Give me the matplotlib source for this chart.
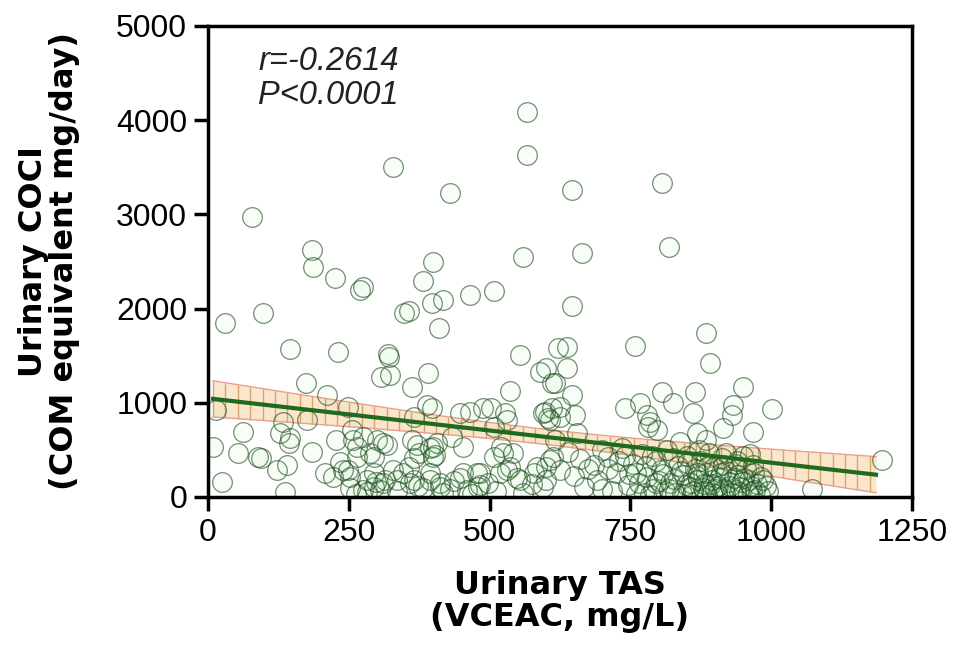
import numpy as np
import matplotlib
matplotlib.use("Agg")
import matplotlib.pyplot as plt

plt.rcParams['font.family'] = ['Liberation Sans', 'DejaVu Sans']

# Urinary TAS (VCEAC, mg/L) and urinary COCI (COM equivalent mg/day) per subject
tas = [
    566, 566, 328, 429, 79, 184, 559, 400, 646, 806, 664, 818,
    187, 226, 270, 275, 381, 397, 417, 348, 356, 411, 465, 508,
    30, 97, 146, 231, 322, 320, 554, 622, 646, 758, 884, 637,
    892, 601, 590, 308, 324, 391, 174, 362, 537, 610, 211, 388,
    397, 249, 488, 503, 465, 448, 595, 610, 15, 134, 175, 607,
    530, 507, 128, 63, 255, 637, 616, 646, 599, 625, 652, 604,
    741, 767, 806, 826, 865, 862, 785, 797, 950, 932, 930, 1001,
    968, 914, 868, 779, 365, 527, 625, 782, 885, 838, 655, 433,
    146, 143, 9, 54, 94, 122, 141, 24, 137, 184, 208, 228,
    276, 264, 288, 234, 249, 300, 317, 294, 314, 329, 294, 282,
    362, 374, 394, 400, 406, 347, 365, 394, 412, 382, 453, 453,
    483, 480, 507, 530, 542, 521, 554, 578, 601, 613, 595, 616,
    258, 311, 294, 264, 371, 400, 403, 365, 356, 524, 536, 518,
    548, 584, 607, 625, 601, 222, 252, 282, 311, 335, 359, 394,
    412, 447, 477, 483, 459, 276, 305, 252, 89, 240, 1072, 1196,
    640, 660, 675, 690, 700, 710, 725, 735, 745, 755, 760, 770,
    780, 790, 795, 805, 815, 820, 830, 835, 845, 850, 855, 860,
    865, 870, 875, 880, 885, 890, 893, 898, 903, 908, 912, 916,
    920, 925, 930, 935, 940, 945, 950, 955, 960, 965, 970, 975,
    650, 668, 685, 700, 718, 730, 748, 765, 778, 788, 800, 812,
    825, 840, 858, 872, 888, 905, 920, 938, 952, 968, 982, 990,
    962, 710, 740, 760, 775, 850, 870, 895, 915, 940, 880,
    262, 298, 336, 372, 418, 436, 468, 498, 512, 560, 575, 430,
    785, 795, 808, 818, 828, 842, 848, 862, 868, 878, 886, 894,
    900, 910, 918, 926, 934, 942, 948, 958, 964, 972, 980, 986,
    995,
]
coci = [
    4090, 3630, 3506, 3230, 2969, 2622, 2548, 2490, 3259, 3337, 2587, 2657,
    2445, 2322, 2197, 2232, 2296, 2063, 2091, 1950, 1978, 1790, 2144, 2190,
    1851, 1957, 1568, 1543, 1490, 1515, 1507, 1578, 2028, 1603, 1744, 1596,
    1426, 1366, 1330, 1277, 1295, 1313, 1207, 1171, 1129, 1207, 1083, 977,
    942, 959, 942, 942, 906, 888, 888, 942, 924, 800, 817, 817,
    817, 746, 676, 694, 711, 1366, 1207, 1083, 906, 852, 870, 835,
    942, 995, 1118, 995, 1118, 888, 800, 711, 1171, 977, 870, 931,
    694, 729, 676, 870, 852, 888, 958, 746, 605, 587, 676, 640,
    623, 570, 534, 464, 411, 287, 340, 163, 55, 481, 252, 605,
    640, 534, 464, 375, 287, 605, 552, 252, 180, 287, 110, 56,
    605, 464, 517, 428, 570, 252, 180, 252, 145, 92, 534, 252,
    252, 110, 428, 287, 464, 534, 180, 252, 322, 428, 110, 605,
    605, 570, 428, 428, 552, 534, 446, 411, 322, 464, 322, 252,
    198, 322, 393, 287, 180, 215, 215, 180, 145, 180, 145, 180,
    109, 198, 252, 127, 74, 74, 74, 92, 428, 287, 80, 393,
    480, 400, 300, 180, 80, 420, 250, 520, 130, 350, 30, 460,
    210, 90, 380, 290, 500, 150, 40, 330, 230, 440, 110, 20,
    300, 180, 380, 60, 250, 470, 140, 320, 30, 200, 410, 90,
    280, 160, 40, 350, 230, 110, 430, 300, 180, 60, 250, 140,
    220, 110, 340, 500, 60, 380, 240, 150, 330, 440, 170, 60,
    410, 280, 150, 500, 330, 120, 470, 70, 200, 340, 210, 120,
    460, 300, 430, 260, 40, 360, 260, 40, 340, 380, 140,
    30, 160, 60, 120, 40, 170, 30, 150, 60, 40, 140, 80,
    20, 150, 240, 80, 190, 30, 130, 60, 220, 100, 20, 180,
    90, 250, 30, 120, 200, 50, 160, 30, 120, 70, 20, 180,
    60,
]

r_text = "r=-0.2614"
p_text = "P<0.0001"

x = np.array(tas, dtype=float)
y = np.array(coci, dtype=float)

# linear fit with 95% confidence band
slope, intercept = np.polyfit(x, y, 1)
n = len(x)
resid = y - (intercept + slope * x)
s_err = np.sqrt(np.sum(resid ** 2) / (n - 2))
sxx = np.sum((x - x.mean()) ** 2)
t_val = 1.97

def band(xs):
    fit = intercept + slope * xs
    half = t_val * s_err * np.sqrt(1.0 / n + (xs - x.mean()) ** 2 / sxx)
    return fit, fit - half, fit + half

xs = np.linspace(x.min(), x.max() - 10, 200)
fit, lo, hi = band(xs)

fig = plt.figure(figsize=(9.55, 6.53), dpi=100)
ax = fig.add_axes([0.2178, 0.2389, 0.7372, 0.7213])

ax.fill_between(xs, lo, hi, color='#fbe6cc', lw=0, zorder=1)
xv = np.arange(x.min(), x.max() - 10, 22)
_, lo_v, hi_v = band(xv)
ax.vlines(xv, lo_v, hi_v, color='#d6a46e', lw=1.0, zorder=1.2)
ax.plot(xs, lo, color='#e8a08c', lw=1.0, zorder=1.3)
ax.plot(xs, hi, color='#e8a08c', lw=1.0, zorder=1.3)

ax.scatter(x, y, s=200, facecolors=(0.3, 0.8, 0.3, 0.035),
           edgecolors=(0.12, 0.3, 0.12, 0.62), linewidths=0.9, zorder=2)

ax.plot(xs, fit, color='#1f6a1f', lw=3, zorder=3)

ax.text(0.071, 0.958, r_text + "\n" + p_text, transform=ax.transAxes,
        fontsize=23.5, style='italic', va='top', ha='left', color='#222222',
        linespacing=1.12)

ax.set_xlim(0, 1250)
ax.set_ylim(0, 5000)
ax.set_xticks([0, 250, 500, 750, 1000, 1250])
ax.set_yticks([0, 1000, 2000, 3000, 4000, 5000])

for sp in ax.spines.values():
    sp.set_linewidth(2.5)
    sp.set_color('black')
ax.tick_params(direction='out', length=10, width=2.5, labelsize=23, pad=5,
               top=False, right=False)

ax.set_xlabel("Urinary TAS\n(VCEAC, mg/L)", fontsize=23, fontweight='bold',
              family='DejaVu Sans', linespacing=1.05)
ax.set_ylabel("Urinary COCI\n(COM equivalent mg/day)", fontsize=23,
              fontweight='bold', family='DejaVu Sans', linespacing=1.0)
ax.xaxis.set_label_coords(0.5, -0.155)
ax.yaxis.set_label_coords(-0.182, 0.5)

fig.savefig("out.png", dpi=100, facecolor='white')
